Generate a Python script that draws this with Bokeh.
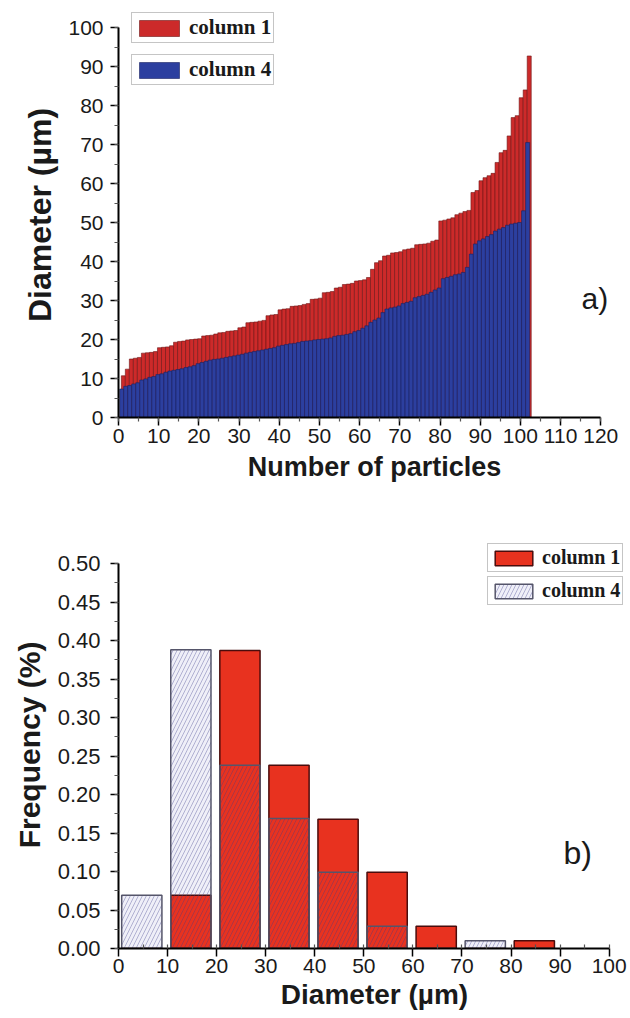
from bokeh.plotting import figure
from bokeh.models import (Range1d, Legend, LegendItem, Label, SingleIntervalTicker,
                          NumeralTickFormatter, ColumnDataSource)
from bokeh.layouts import column
from bokeh.transform import dodge
from bokeh.embed import file_html
from bokeh.resources import INLINE

# ---------------- data: panel a) ----------------
particle_no = list(range(1, 103))
col1_diameter = [
    10.7, 12.4, 15.0, 15.2, 15.4, 16.5, 16.6, 16.7, 16.9, 17.9,
    18.0, 18.1, 18.4, 19.3, 19.5, 19.6, 19.9, 20.0, 20.1, 20.2,
    20.9, 21.0, 21.1, 21.4, 21.7, 21.8, 22.1, 22.2, 22.3, 23.0,
    23.2, 24.3, 24.4, 24.5, 24.7, 24.9, 26.1, 26.3, 26.4, 27.6,
    27.8, 27.9, 28.5, 28.6, 28.7, 29.0, 29.2, 30.3, 30.4, 30.6,
    32.0, 32.1, 32.3, 33.2, 33.4, 34.1, 34.2, 34.4, 35.0, 35.1,
    35.3, 35.9, 38.0, 39.7, 40.2, 41.4, 41.6, 42.2, 42.3, 42.5,
    43.0, 43.2, 43.4, 44.3, 44.4, 44.5, 44.7, 45.2, 45.5, 50.4,
    50.6, 50.9, 51.2, 52.0, 52.4, 52.8, 53.1, 57.7, 58.2, 60.7,
    61.5, 62.0, 62.6, 65.4, 67.9, 68.5, 72.2, 76.9, 77.4, 82.0,
    84.0, 92.7]
col4_diameter = [
    7.3, 8.0, 8.2, 8.6, 8.9, 9.6, 9.9, 10.3, 10.5, 11.0,
    11.2, 11.6, 11.9, 12.1, 12.3, 12.5, 12.8, 13.0, 13.3, 13.8,
    14.1, 14.4, 14.7, 14.9, 15.0, 15.2, 15.4, 15.6, 15.8, 16.0,
    16.2, 16.5, 16.7, 16.9, 17.1, 17.3, 17.5, 17.7, 17.9, 18.3,
    18.5, 18.7, 18.9, 19.0, 19.2, 19.5, 19.6, 19.7, 19.9, 20.0,
    20.1, 20.2, 20.4, 20.8, 21.0, 21.1, 21.3, 21.5, 22.0, 22.3,
    22.9, 23.5, 24.4, 25.0, 25.5, 26.9, 27.8, 28.1, 28.3, 28.6,
    29.2, 29.5, 29.8, 30.7, 31.0, 31.3, 31.6, 32.1, 32.7, 33.2,
    35.6, 35.9, 36.2, 36.6, 36.8, 37.2, 38.5, 41.9, 44.5, 45.3,
    45.8, 46.4, 46.9, 47.8, 48.3, 48.7, 49.3, 49.6, 49.8, 50.0,
    53.0, 70.5]

# ---------------- data: panel b) ----------------
bin_left = [0, 10, 20, 30, 40, 50, 60, 70, 80]
freq_col1 = [0.0, 0.069, 0.387, 0.238, 0.168, 0.099, 0.029, 0.0, 0.010]
freq_col4 = [0.069, 0.388, 0.238, 0.169, 0.099, 0.029, 0.0, 0.010, 0.0]

SANS = "Liberation Sans"
SERIF = "Liberation Serif"


def style_axes(p, xlabel, ylabel, tick_size_x, tick_size_y, ylab_size, xlab_size):
    for ax in (p.xaxis[0], p.yaxis[0]):
        ax.axis_line_width = 2
        ax.axis_line_color = "black"
        ax.major_tick_line_width = 1.5
        ax.major_tick_line_color = "black"
        ax.minor_tick_line_width = 1.2
        ax.minor_tick_line_color = "#555555"
        ax.major_tick_out = 8
        ax.major_tick_in = 0
        ax.minor_tick_out = 4
        ax.minor_tick_in = 0
        ax.major_label_text_font = SANS
        ax.major_label_text_color = "#1a1a1a"
        ax.axis_label_text_font = SANS
        ax.axis_label_text_font_style = "bold"
        ax.axis_label_text_color = "#1a1a1a"
    p.xaxis.axis_label = xlabel
    p.yaxis.axis_label = ylabel
    p.xaxis.major_label_text_font_size = tick_size_x
    p.yaxis.major_label_text_font_size = tick_size_y
    p.xaxis.axis_label_text_font_size = xlab_size
    p.yaxis.axis_label_text_font_size = ylab_size
    p.grid.visible = False
    p.outline_line_color = None
    p.background_fill_color = "white"
    p.border_fill_color = "white"


def single_legend(p, label, renderers, loc, gw, gh, fsize):
    lg = Legend(items=[LegendItem(label=label, renderers=renderers)],
                location=loc, orientation="vertical",
                glyph_width=gw, glyph_height=gh, label_height=gh,
                label_text_font=SERIF, label_text_font_style="bold",
                label_text_font_size=fsize, label_text_color="#1a1a1a",
                label_standoff=5, padding=2, spacing=0, margin=0,
                border_line_color="#8c8c8c", border_line_width=1.5,
                background_fill_color="white", background_fill_alpha=1)
    p.add_layout(lg)


# ================= panel a) =================
src_a = ColumnDataSource(dict(n=particle_no, c1=col1_diameter, c4=col4_diameter))

p1 = figure(width=630, height=494, x_range=Range1d(0, 127.4), y_range=Range1d(0, 103.85),
            output_backend="svg", toolbar_location=None,
            min_border_left=116, min_border_right=0, min_border_top=12, min_border_bottom=77)

r_red = p1.vbar(x=dodge("n", 0.2, range=p1.x_range), top="c1", width=1.0, source=src_a,
                fill_color="#cc2a2a", line_color="#6e1414", line_width=0.6)
r_blue = p1.vbar(x=dodge("n", -0.2, range=p1.x_range), top="c4", width=1.0, source=src_a,
                 fill_color="#2c3f9f", line_color="#1a2262", line_width=0.6)

style_axes(p1, "Number of particles", "Diameter (µm)", "21px", "21px", "32px", "27px")
p1.xaxis.ticker = SingleIntervalTicker(interval=10, num_minor_ticks=2)
p1.yaxis.ticker = SingleIntervalTicker(interval=10, num_minor_ticks=2)
p1.xaxis.bounds = (0, 120)
p1.yaxis.bounds = (0, 100)
p1.xaxis.major_label_standoff = 3
p1.xaxis.axis_label_standoff = 6
p1.yaxis.major_label_standoff = 7
p1.yaxis.axis_label_standoff = 7

single_legend(p1, "column 1", [r_red], (13, 374), 50, 20, "21px")
single_legend(p1, "column 4", [r_blue], (13, 332), 50, 20, "21px")

p1.add_layout(Label(x=463, y=119, x_units="screen", y_units="screen", text="a)",
                    text_font=SANS, text_font_size="30px", text_color="#1a1a1a",
                    text_baseline="middle"))

# ================= panel b) =================
src_b = ColumnDataSource(dict(left=bin_left, f1=freq_col1, f4=freq_col4))

p2 = figure(width=630, height=524, x_range=Range1d(0, 104.35), y_range=Range1d(0, 0.5286),
            output_backend="svg", toolbar_location=None,
            min_border_left=118, min_border_right=0, min_border_top=47, min_border_bottom=70)

xb = dodge("left", 4.75, range=p2.x_range)
r_h_bg = p2.vbar(x=xb, top="f4", width=8.2, source=src_b,
                 fill_color="#efeff8", line_color=None)
r_c1 = p2.vbar(x=xb, top="f1", width=8.2, source=src_b,
               fill_color="#e8321f", line_color="#4a0c0c", line_width=1.5)
r_h = p2.vbar(x=xb, top="f4", width=8.2, source=src_b,
              fill_alpha=0, hatch_pattern="/", hatch_color="#3a3a8a", hatch_alpha=0.35,
              hatch_scale=8, hatch_weight=1.0,
              line_color="#55556a", line_width=1.5)

style_axes(p2, "Diameter (µm)", "Frequency (%)", "21px", "22px", "30px", "28px")
p2.xaxis.ticker = SingleIntervalTicker(interval=10, num_minor_ticks=2)
p2.yaxis.ticker = SingleIntervalTicker(interval=0.05, num_minor_ticks=2)
p2.yaxis.formatter = NumeralTickFormatter(format="0.00")
p2.xaxis.bounds = (0, 100)
p2.yaxis.bounds = (0, 0.5)
p2.xaxis.minor_tick_in = 4
p2.xaxis.minor_tick_out = 0
p2.xaxis.major_label_standoff = 2
p2.xaxis.axis_label_standoff = 3
p2.yaxis.major_label_standoff = 10
p2.yaxis.axis_label_standoff = 9

single_legend(p2, "column 1", [r_c1], (369, 376), 47, 18, "20px")
single_legend(p2, "column 4", [r_h_bg, r_h], (369, 343), 47, 18, "20px")

p2.add_layout(Label(x=445, y=96, x_units="screen", y_units="screen", text="b)",
                    text_font=SANS, text_font_size="32px", text_color="#1a1a1a",
                    text_baseline="middle"))

layout = column(p1, p2, spacing=0)
open("out.html", "w").write(file_html(layout, INLINE))
